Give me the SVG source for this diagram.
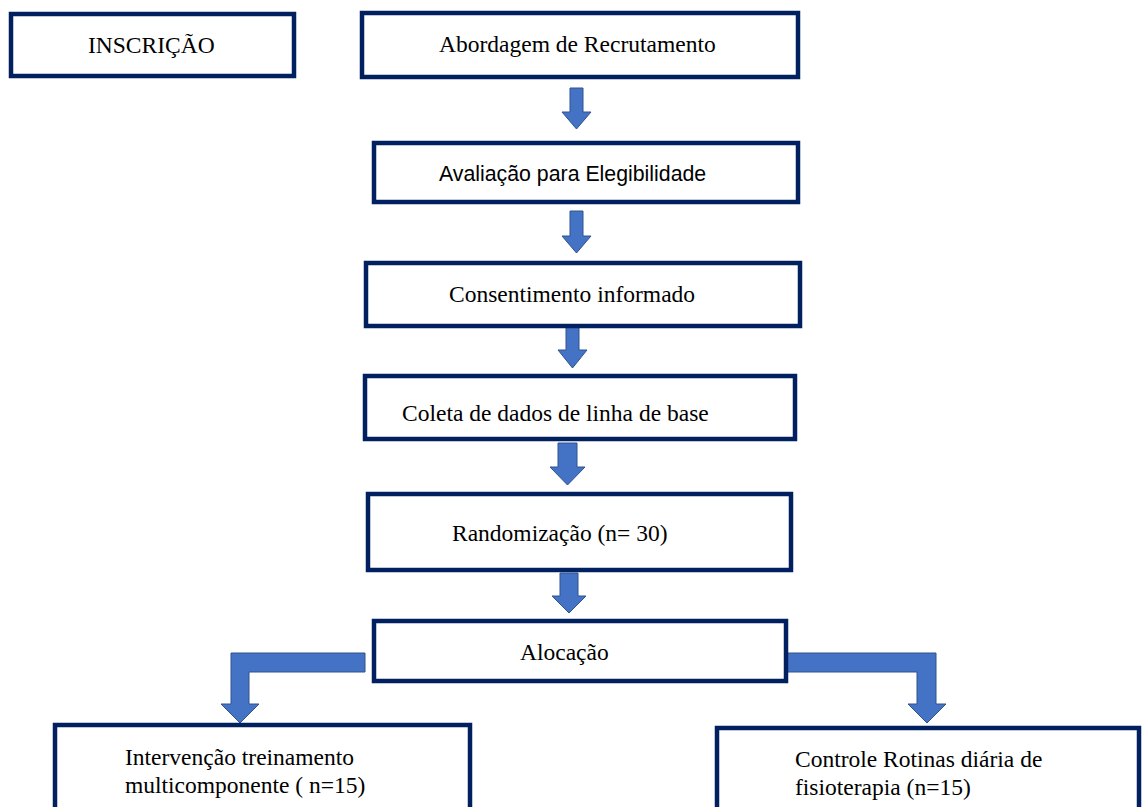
<svg xmlns="http://www.w3.org/2000/svg" width="1142" height="807" viewBox="0 0 1142 807">
<style>
.box{fill:#fff;stroke:#002060;stroke-width:4.5}
.t{font-family:"Liberation Serif","Times New Roman",serif;font-size:23.5px;fill:#000}
.s{font-family:"Liberation Sans",Arial,sans-serif;font-size:21.3px;fill:#000}
.arr{fill:#4472C4;stroke:#2F528F;stroke-width:1}
</style>
<rect width="1142" height="807" fill="#fff"/>
<g id="connectors">
<path class="arr" d="M570,88 H583 V112 H591 L576.5,129 L562,112 H570 Z"/>
<path class="arr" d="M570,211 H583 V236 H591 L576.5,253 L562,236 H570 Z"/>
<path class="arr" d="M566,325 H579 V350 H587 L572.5,368 L558,350 H566 Z"/>
<path class="arr" d="M558,443 H577 V467 H585 L567.5,485 L550,467 H558 Z"/>
<path class="arr" d="M560,573 H578 V596 H586 L569,613 L552,596 H560 Z"/>
<path class="arr" d="M365,653 V672 H249 V704 H259 L240,723 L221,704 H231 V653 Z"/>
<path class="arr" d="M787,653 V672 H917 V704 H908 L927,723 L946,704 H936 V653 Z"/>
</g>
<g id="inscricao"><rect class="box" x="11" y="14" width="283" height="62"/><text class="t" x="88" y="53">INSCRIÇÃO</text></g>
<g id="abordagem"><rect class="box" x="362" y="13" width="436" height="64"/><text class="t" x="439" y="52">Abordagem de Recrutamento</text></g>
<g id="avaliacao"><rect class="box" x="374" y="143" width="424" height="59"/><text class="s" x="439" y="181">Avaliação para Elegibilidade</text></g>
<g id="consentimento"><rect class="box" x="366" y="263" width="434" height="63"/><text class="t" x="449" y="302">Consentimento informado</text></g>
<g id="coleta"><rect class="box" x="365" y="376" width="430" height="63"/><text class="t" x="402" y="421">Coleta de dados de linha de base</text></g>
<g id="randomizacao"><rect class="box" x="368" y="494" width="423" height="76"/><text class="t" x="452" y="541">Randomização (n= 30)</text></g>
<g id="alocacao"><rect class="box" x="374" y="621" width="412" height="60"/><text class="t" x="520" y="660">Alocação</text></g>
<g id="intervencao"><rect class="box" x="55" y="725" width="415" height="100"/><text class="t" x="125" y="765">Intervenção treinamento</text><text class="t" x="125" y="793">multicomponente ( n=15)</text></g>
<g id="controle"><rect class="box" x="717" y="728" width="422" height="100"/><text class="t" x="795" y="767">Controle Rotinas diária de</text><text class="t" x="795" y="795">fisioterapia (n=15)</text></g>
</svg>
